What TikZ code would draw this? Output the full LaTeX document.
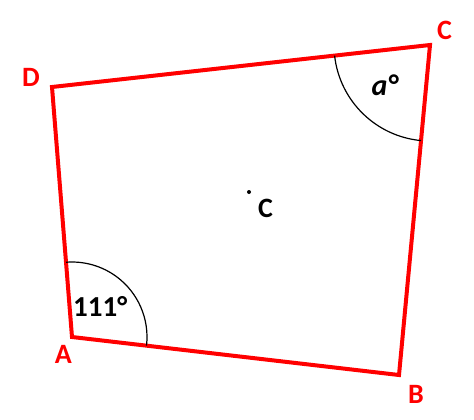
\documentclass[tikz,border=0pt]{standalone}
\usepackage{fontspec}
\setmainfont{Carlito}
\usetikzlibrary{positioning, angles}

\begin{document}
\begin{tikzpicture}[x=1pt,y=-1pt,node distance=6pt,inner sep=0pt,
  corner/.style={text=red,font=\bfseries\fontsize{28}{28}\selectfont},
  side/.style={draw=red,line width=4pt,line join=miter},
  tag/.style={text=black,font=\bfseries\fontsize{28}{28}\selectfont},
  arcline/.style={draw,line width=1.2pt}]
\useasboundingbox (0,0) rectangle (474,420);
\coordinate (A) at (72,337);
\coordinate (B) at (399,375);
\coordinate (C) at (430,45);
\coordinate (D) at (52,87);
\coordinate (O) at (249,192);

\draw[side] (A) -- (B) -- (C) -- (D) -- cycle;
\pic[arcline,angle radius=75pt] {angle=B--A--D};
\pic[arcline,angle radius=96pt] {angle=D--C--B};

\node[corner] (lA) [below left=8pt and 0pt of A] {A};
\node[corner] (lB) [below right=10pt and 9pt of B] {B};
\node[corner] (lC) [above right=5pt and 7pt of C] {C};
\node[corner] (lD) [above left=0pt and 12pt of D] {D};

\fill (O) circle (2pt);
\node[tag] (lO) [below right=7pt and 9pt of O] {C};
\node[tag,font=\bfseries\fontsize{29}{29}\selectfont] (angA) [above right=20pt and 1pt of A] {111°};
\node[tag,font=\bfseries\itshape\fontsize{30}{30}\selectfont] (angC) [below left=30pt and 32pt of C] {a°};
\end{tikzpicture}
\end{document}
